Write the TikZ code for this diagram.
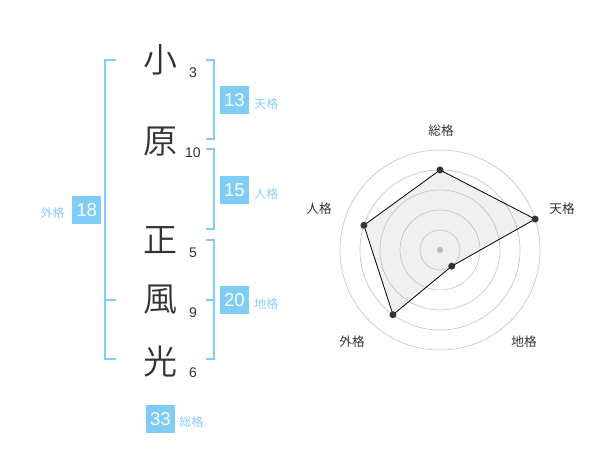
\documentclass[tikz,border=0pt]{standalone}
\usepackage{fontspec}
\usetikzlibrary{calc}
\setmainfont{Liberation Sans}
\newfontfamily\cjk{Noto Sans CJK JP}
\IfFontExistsTF{Noto Sans CJK JP DemiLight}{\newfontfamily\cjkl{Noto Sans CJK JP DemiLight}}{\newfontfamily\cjkl{Noto Sans CJK JP}}
\definecolor{blu}{RGB}{127,204,247}
\definecolor{lbl}{RGB}{140,205,245}
\definecolor{ink}{RGB}{51,51,51}
\begin{document}
\begin{tikzpicture}[x=0.75pt,y=-0.75pt,
  kanji/.style={font=\cjkl\fontsize{25.5}{25.5}\selectfont, text=ink, inner sep=0},
  strokes/.style={font=\fontsize{10.5}{10.5}\selectfont, text=ink, inner sep=0},
  valbox/.style={fill=blu, text=white, font=\fontsize{14}{14}\selectfont, minimum width=21.75pt, minimum height=21.25pt, inner sep=0},
  kaku/.style={font=\cjk\fontsize{9}{9}\selectfont, text=lbl, inner sep=0},
  brk/.style={draw=blu, line width=1.5pt},
  ring/.style={draw=black!22, line width=0.5pt},
  axislbl/.style={font=\cjk\fontsize{9.5}{9.5}\selectfont, text=ink, inner sep=0},
  dot/.style={circle, fill=ink, inner sep=0, minimum size=5.25pt}]
\useasboundingbox (0,0) rectangle (600,470);
% characters
\node[kanji] (c1) at (160,60) {小};
\node[kanji] (c2) at (160,142) {原};
\node[kanji] (c3) at (160,240) {正};
\node[kanji] (c4) at (160,300) {風};
\node[kanji] (c5) at (160,362) {光};
\node[strokes] (s1) at (193,73) {3};
\node[strokes] (s2) at (193,153) {10};
\node[strokes] (s3) at (193,253) {5};
\node[strokes] (s4) at (193,313) {9};
\node[strokes] (s5) at (193,373) {6};
% brackets
\draw[brk] (116,60) -- (105,60) -- (105,359) -- (116,359);
\draw[brk] (105,300) -- (116,300);
\draw[brk] (206,60) -- (214,60) -- (214,139) -- (206,139);
\draw[brk] (206,149) -- (214,149) -- (214,229) -- (206,229);
\draw[brk] (206,240) -- (214,240) -- (214,359) -- (206,359);
\draw[brk] (206,300) -- (214,300);
% value boxes
\node[valbox] (b1) at (234.5,100) {13};
\node[kaku, anchor=west] (k1) at (254,104) {天格};
\node[valbox] (b2) at (234.5,190) {15};
\node[kaku, anchor=west] (k2) at (254,194) {人格};
\node[valbox] (b3) at (86.7,210) {18};
\node[kaku, anchor=east] (k3) at (65,213) {外格};
\node[valbox] (b4) at (234.5,300) {20};
\node[kaku, anchor=west] (k4) at (254,304) {地格};
\node[valbox] (b5) at (160.5,419) {33};
\node[kaku, anchor=west] (k5) at (179,422) {総格};
% radar
\coordinate (C) at (440,250);
\foreach \r in {20,40,60,80,100} \draw[ring] (C) circle (\r);
\fill[black!25] (C) circle (3);
\coordinate (p1) at ($(C)+(-90:80)$);
\coordinate (p2) at ($(C)+(-18:100)$);
\coordinate (p3) at ($(C)+(54:20)$);
\coordinate (p4) at ($(C)+(126:80)$);
\coordinate (p5) at ($(C)+(198:80)$);
\draw[fill=black!40, fill opacity=0.15, draw=black, line width=0.6pt] (p1) -- (p2) -- (p3) -- (p4) -- (p5) -- cycle;
\foreach \p in {p1,p2,p3,p4,p5} \node[dot] at (\p) {};
\node[axislbl] (a1) at (441,131) {総格};
\node[axislbl] (a2) at (562,209) {天格};
\node[axislbl] (a3) at (524,342) {地格};
\node[axislbl] (a4) at (352,342) {外格};
\node[axislbl] (a5) at (319,209) {人格};
\end{tikzpicture}
\end{document}
